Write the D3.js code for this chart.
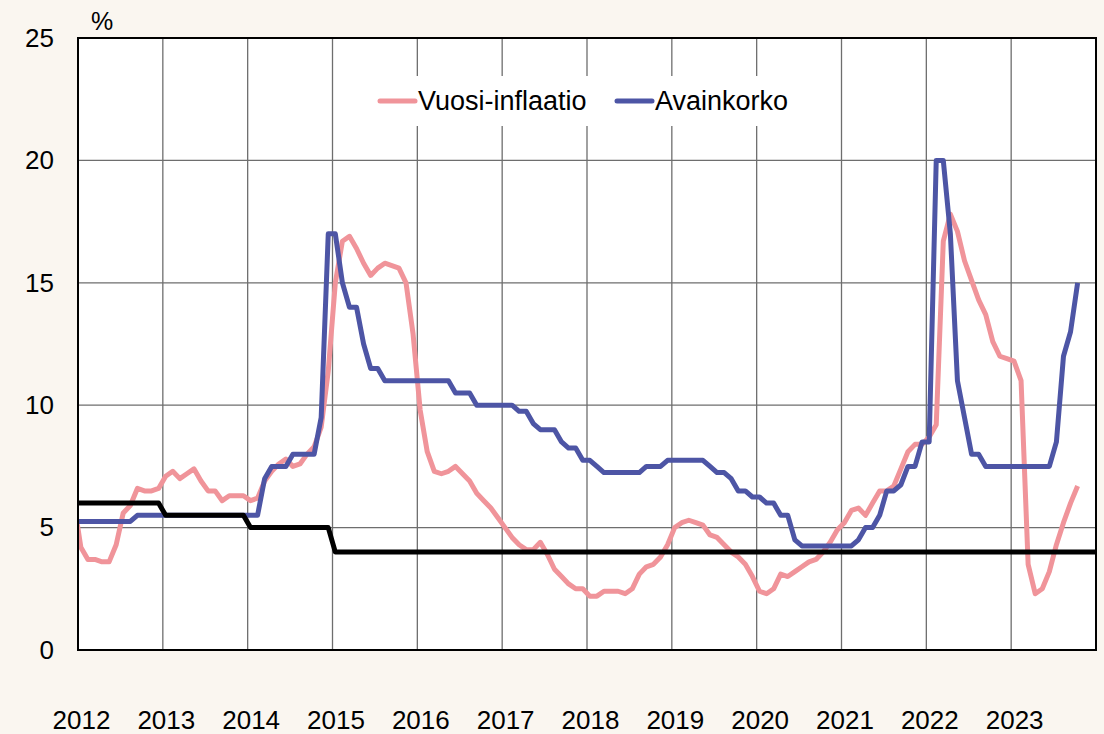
<!DOCTYPE html>
<html>
<head>
<meta charset="utf-8">
<script src="https://cdn.jsdelivr.net/npm/d3@7"></script>
<style>
  html, body { margin: 0; padding: 0; background: #faf6f0; }
  svg { display: block; font-family: "Liberation Sans", Arial, sans-serif; }
</style>
</head>
<body>
<svg id="chart" width="1104" height="734"></svg>
<script>
// --- Data (monthly, first value = Dec 2011) ---

const years = [2012, 2013, 2014, 2015, 2016, 2017, 2018, 2019, 2020, 2021, 2022, 2023];
const yTicks = [0, 5, 10, 15, 20, 25];

// annual inflation, %, Dec 2011 .. Oct 2023
const inflation = [
  6.1,
  4.2, 3.7, 3.7, 3.6, 3.6, 4.3, 5.6, 5.9, 6.6, 6.5, 6.5, 6.6,
  7.1, 7.3, 7.0, 7.2, 7.4, 6.9, 6.5, 6.5, 6.1, 6.3, 6.3, 6.3,
  6.1, 6.2, 6.9, 7.3, 7.6, 7.8, 7.5, 7.6, 8.0, 8.3, 9.1, 11.4,
  15.0, 16.7, 16.9, 16.4, 15.8, 15.3, 15.6, 15.8, 15.7, 15.6, 15.0, 12.9,
  9.8, 8.1, 7.3, 7.2, 7.3, 7.5, 7.2, 6.9, 6.4, 6.1, 5.8, 5.4,
  5.0, 4.6, 4.3, 4.1, 4.1, 4.4, 3.9, 3.3, 3.0, 2.7, 2.5, 2.5,
  2.2, 2.2, 2.4, 2.4, 2.4, 2.3, 2.5, 3.1, 3.4, 3.5, 3.8, 4.3,
  5.0, 5.2, 5.3, 5.2, 5.1, 4.7, 4.6, 4.3, 4.0, 3.8, 3.5, 3.0,
  2.4, 2.3, 2.5, 3.1, 3.0, 3.2, 3.4, 3.6, 3.7, 4.0, 4.4, 4.9,
  5.2, 5.7, 5.8, 5.5, 6.0, 6.5, 6.5, 6.7, 7.4, 8.1, 8.4, 8.4,
  8.7, 9.2, 16.7, 17.8, 17.1, 15.9, 15.1, 14.3, 13.7, 12.6, 12.0, 11.9,
  11.8, 11.0, 3.5, 2.3, 2.5, 3.2, 4.3, 5.2, 6.0, 6.7
];

// key rate, %, Dec 2011 .. Oct 2023
const keyRate = [
  5.25,
  5.25, 5.25, 5.25, 5.25, 5.25, 5.25, 5.25, 5.25, 5.5, 5.5, 5.5, 5.5,
  5.5, 5.5, 5.5, 5.5, 5.5, 5.5, 5.5, 5.5, 5.5, 5.5, 5.5, 5.5,
  5.5, 5.5, 7.0, 7.5, 7.5, 7.5, 8.0, 8.0, 8.0, 8.0, 9.5, 17,
  17, 15, 14, 14, 12.5, 11.5, 11.5, 11, 11, 11, 11, 11,
  11, 11, 11, 11, 11, 10.5, 10.5, 10.5, 10, 10, 10, 10,
  10, 10, 9.75, 9.75, 9.25, 9, 9, 9, 8.5, 8.25, 8.25, 7.75,
  7.75, 7.5, 7.25, 7.25, 7.25, 7.25, 7.25, 7.25, 7.5, 7.5, 7.5, 7.75,
  7.75, 7.75, 7.75, 7.75, 7.75, 7.5, 7.25, 7.25, 7.0, 6.5, 6.5, 6.25,
  6.25, 6.0, 6.0, 5.5, 5.5, 4.5, 4.25, 4.25, 4.25, 4.25, 4.25, 4.25,
  4.25, 4.25, 4.5, 5.0, 5.0, 5.5, 6.5, 6.5, 6.75, 7.5, 7.5, 8.5,
  8.5, 20, 20, 17, 11, 9.5, 8, 8, 7.5, 7.5, 7.5, 7.5,
  7.5, 7.5, 7.5, 7.5, 7.5, 7.5, 8.5, 12, 13, 15
];

// inflation target by year
const targetYears = [2011, 2012, 2013, 2014, 2015, 2016, 2017, 2018, 2019, 2020, 2021, 2022, 2023, 2024];
const targetValues = [6, 6, 5.5, 5, 4, 4, 4, 4, 4, 4, 4, 4, 4, 4];

const legendItems = [
  { label: 'Vuosi-inflaatio', color: '#f0949a' },
  { label: 'Avainkorko', color: '#4d55a5' }
];

// --- Layout ---

const svg = d3.select('#chart');
const plot = { left: 78, right: 1096, top: 38, bottom: 650 };

// x in months since Jan 2012, points drawn a little into the month
const x = d3.scaleLinear().domain([0, 144]).range([plot.left, plot.right]);
const y = d3.scaleLinear().domain([0, 25]).range([plot.bottom, plot.top]);
const monthPos = m => x(m + 0.4);

svg.append('rect')
  .attr('x', plot.left).attr('y', plot.top)
  .attr('width', plot.right - plot.left).attr('height', plot.bottom - plot.top)
  .attr('fill', '#fff');

svg.append('clipPath').attr('id', 'clip')
  .append('rect')
  .attr('x', plot.left).attr('y', plot.top)
  .attr('width', plot.right - plot.left).attr('height', plot.bottom - plot.top);

// --- Grid ---

const grid = svg.append('g').attr('stroke', '#6e6e6e').attr('stroke-width', 1.3);
grid.selectAll('line.v')
  .data(years.slice(1))
  .join('line')
  .attr('x1', d => x((d - 2012) * 12)).attr('x2', d => x((d - 2012) * 12))
  .attr('y1', plot.top).attr('y2', plot.bottom);
grid.selectAll('line.h')
  .data(yTicks.slice(1, -1))
  .join('line')
  .attr('x1', plot.left).attr('x2', plot.right)
  .attr('y1', d => y(d)).attr('y2', d => y(d));

// legend backdrop hides grid behind it
svg.append('rect')
  .attr('x', 372).attr('y', 76).attr('width', 425).attr('height', 50)
  .attr('fill', '#fff');

// --- Lines ---

const line = d3.line()
  .x(d => monthPos(d.m))
  .y(d => y(d.v));

const infPts = inflation.map((v, i) => ({ m: i - 1, v }));
const keyPts = keyRate.map((v, i) => ({ m: i - 1, v }));
const targetPts = d3.range(-1, 145).map(m => {
  const yr = 2012 + Math.floor(m / 12);
  return { m, v: targetValues[targetYears.indexOf(yr)] };
});

const lines = svg.append('g').attr('clip-path', 'url(#clip)')
  .attr('fill', 'none')
  .attr('stroke-linejoin', 'round');

lines.append('path')
  .attr('d', line(infPts))
  .attr('stroke', legendItems[0].color)
  .attr('stroke-width', 5);

lines.append('path')
  .attr('d', line(keyPts))
  .attr('stroke', legendItems[1].color)
  .attr('stroke-width', 5);

lines.append('path')
  .attr('d', line(targetPts))
  .attr('stroke', '#000')
  .attr('stroke-width', 5);

// --- Frame ---

svg.append('rect')
  .attr('x', plot.left).attr('y', plot.top)
  .attr('width', plot.right - plot.left).attr('height', plot.bottom - plot.top)
  .attr('fill', 'none').attr('stroke', '#000').attr('stroke-width', 2);

// --- Axes ---

const yAxis = d3.axisLeft(y).tickValues(yTicks).tickSize(0).tickPadding(24);
svg.append('g')
  .attr('transform', `translate(${plot.left},0)`)
  .call(yAxis)
  .call(g => g.select('.domain').remove())
  .call(g => g.selectAll('text')
    .attr('font-size', 26).attr('fill', '#000')
    .attr('font-family', '"Liberation Sans", Arial, sans-serif'));

const xAxis = d3.axisBottom(x)
  .tickValues(years.map(d => (d - 2012) * 12))
  .tickFormat((d, i) => years[i])
  .tickSize(0).tickPadding(0);
svg.append('g')
  .attr('transform', `translate(3,${plot.bottom})`)
  .call(xAxis)
  .call(g => g.select('.domain').remove())
  .call(g => g.selectAll('text')
    .attr('dy', null).attr('y', 79)
    .attr('font-size', 26).attr('fill', '#000')
    .attr('font-family', '"Liberation Sans", Arial, sans-serif'));

svg.append('text')
  .attr('x', 91).attr('y', 30)
  .attr('font-size', 25)
  .text('%');

// --- Legend ---

const legend = svg.append('g');
const legendX = [380, 617];
legendItems.forEach((item, i) => {
  const g = legend.append('g').attr('transform', `translate(${legendX[i]},101)`);
  g.append('line')
    .attr('x1', 0).attr('x2', 35)
    .attr('stroke', item.color).attr('stroke-width', 5).attr('stroke-linecap', 'round');
  g.append('text')
    .attr('x', 38).attr('dy', '0.35em')
    .attr('font-size', 27)
    .text(item.label);
});
</script>
</body>
</html>
